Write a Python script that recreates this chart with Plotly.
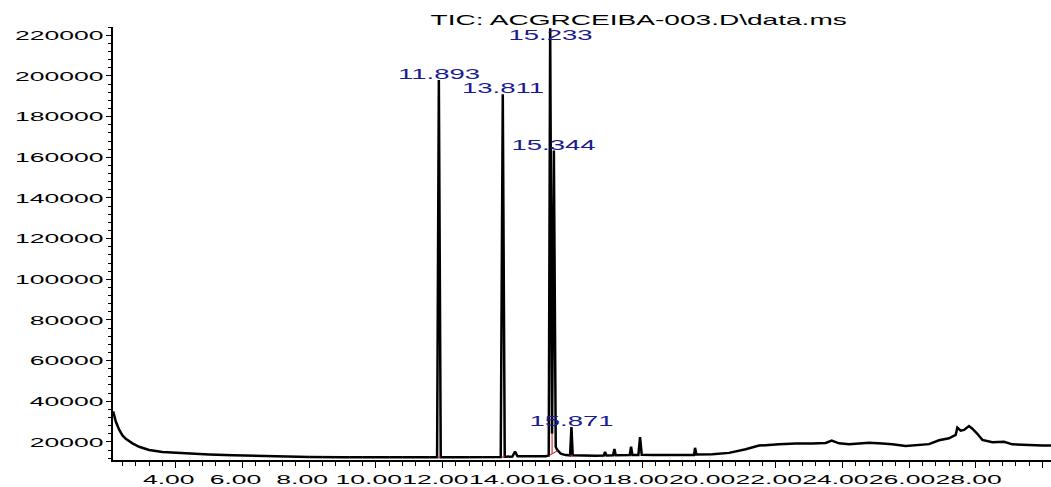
import plotly.graph_objects as go

# Total ion chromatogram: baseline and small features (retention time in min, abundance)
base_rt = [2.12, 2.2, 2.3, 2.4, 2.5, 2.7, 2.9, 3.2, 3.6, 4.0, 4.5, 5.0, 5.7, 6.5, 7.2, 8.0,
           9.0, 10.0, 11.0, 11.84, 11.95, 12.5, 13.2, 13.75, 13.87, 14.1, 14.18, 14.25,
           14.6, 15.1, 15.19, 15.29, 15.40, 15.45, 15.55, 15.7, 15.83, 15.91, 16.2, 16.6,
           16.84, 16.88, 16.92, 17.12, 17.16, 17.2, 17.62, 17.66, 17.70, 17.88, 17.93,
           17.98, 18.3, 18.8, 19.2, 19.55, 19.58, 19.62, 20.1, 20.6, 21.1, 21.5, 22.1,
           22.6, 23.1, 23.5, 23.68, 23.9, 24.2, 24.8, 25.2, 25.5, 25.9, 26.3, 26.6, 26.9,
           27.2, 27.4, 27.45, 27.55, 27.65, 27.8, 27.9, 28.05, 28.2, 28.5, 28.85, 29.1,
           29.5, 30.0, 30.3]
base_ab = [35000, 30000, 26000, 23200, 21500, 19300, 17600, 16000, 15000, 14600, 14100,
           13800, 13400, 13000, 12800, 12600, 12500, 12500, 12500, 12500, 12500, 12500,
           12600, 12600, 12700, 12800, 15300, 12900, 12900, 13000, 13300, 24000, 17500,
           16000, 14200, 13500, 13400, 13400, 13200, 13200, 13300, 15100, 13300, 13400,
           16450, 13400, 13500, 17600, 13600, 13600, 22400, 13700, 13500, 13400, 13400,
           13600, 17100, 13800, 13900, 14600, 16400, 18200, 18800, 19200, 19200, 19500,
           20600, 19300, 18900, 19600, 19200, 18900, 18000, 18400, 18900, 20800, 21800,
           23500, 27000, 25500, 25900, 27800, 26500, 24000, 21000, 19800, 20100, 18800,
           18500, 18200, 18300]

# Integrated peaks: apex retention time and apex abundance
peak_rt = [11.893, 13.811, 15.233, 15.344, 15.871]
peak_top = [198000, 191000, 223500, 163300, 27300]

# Integration baselines and drop line (red), segments separated by None
integ_rt = [11.84, 11.95, None, 13.76, 13.88, None, 15.19, 15.29, 15.45, None,
            15.29, 15.29, None, 15.83, 15.92]
integ_ab = [12400, 12500, None, 12500, 12700, None, 13200, 14100, 15600, None,
            14100, 24000, None, 13200, 13200]

# Axis ticks
x_tick_vals = [4, 6, 8, 10, 12, 14, 16, 18, 20, 22, 24, 26, 28, 30]
x_tick_text = ["4.00", "6.00", "8.00", "10.00", "12.00", "14.00", "16.00", "18.00",
               "20.00", "22.00", "24.00", "26.00", "28.00", ""]
y_tick_vals = [20000, 40000, 60000, 80000, 100000, 120000, 140000, 160000, 180000,
               200000, 220000]
y_tick_text = [str(v) for v in y_tick_vals]

X_RANGE = [2.116, 30.26]
Y_RANGE = [11100, 224100]

# Merge baseline and apex points into one ordered trace
points = sorted(list(zip(base_rt, base_ab)) + list(zip(peak_rt, peak_top)))
trace_rt = [p[0] for p in points]
trace_ab = [p[1] for p in points]

FONT = "Liberation Sans, Arial, sans-serif"
LABEL_BLUE = "#1b1b8f"

fig = go.Figure()
fig.add_trace(go.Scatter(x=trace_rt, y=trace_ab, mode="lines",
                         line=dict(color="black", width=2.5), hoverinfo="skip"))
fig.add_trace(go.Scatter(x=integ_rt, y=integ_ab, mode="lines",
                         line=dict(color="#d01010", width=1), hoverinfo="skip"))

for rt, top in zip(peak_rt, peak_top):
    near_top = top > 0.97 * Y_RANGE[1] - 0.03 * Y_RANGE[0]
    fig.add_annotation(x=rt, y=top, text=f"{rt:.3f}", showarrow=False,
                       xanchor="center", yanchor="top" if near_top else "bottom",
                       yshift=2 if near_top else -3, borderpad=0,
                       font=dict(family=FONT, size=14.1, color=LABEL_BLUE))

fig.update_layout(
    width=1051, height=487,
    margin=dict(l=113, r=0, t=27, b=23),
    paper_bgcolor="white", plot_bgcolor="white",
    showlegend=False,
    title=dict(text="TIC: ACGRCEIBA-003.D\\data.ms", x=589 / 1051, xanchor="center",
               xref="paper", y=1 - 20 / 487, yanchor="middle", yref="container",
               font=dict(family=FONT, size=14.4, color="black")),
)
fig.update_xaxes(range=X_RANGE, showgrid=False, zeroline=False,
                 showline=True, linecolor="black", linewidth=1.5,
                 tickmode="array", tickvals=x_tick_vals, ticktext=x_tick_text,
                 ticks="outside", ticklen=6, tickwidth=1, tickcolor="black",
                 tickangle=0, ticklabelshift=-7,
                 tickfont=dict(family=FONT, size=13.6, color="black"),
                 minor=dict(tickmode="linear", tick0=0, dtick=0.4, ticks="outside",
                            ticklen=4, tickwidth=1, tickcolor="black", showgrid=False))
fig.update_yaxes(range=Y_RANGE, showgrid=False, zeroline=False,
                 showline=True, linecolor="black", linewidth=1.5,
                 tickmode="array", tickvals=y_tick_vals, ticktext=y_tick_text,
                 ticks="outside", ticklen=5, tickwidth=1, tickcolor="black",
                 tickfont=dict(family=FONT, size=13.6, color="black"),
                 minor=dict(tickmode="linear", tick0=0, dtick=4000, ticks="outside",
                            ticklen=3, tickwidth=1, tickcolor="black", showgrid=False))

# Widen the Arial-style lettering horizontally, keeping each text's anchor fixed
STRETCH_JS = """
var gd = document.getElementById('{plot_id}');
var k = 1.95;
gd.querySelectorAll('.xtick text, .ytick text, .annotation-text, .gtitle').forEach(function (t) {
  var x = parseFloat(t.getAttribute('x')) || 0;
  var tr = t.getAttribute('transform') || '';
  t.setAttribute('transform', tr + ' translate(' + x + ',0) scale(' + k + ',1) translate(' + (-x) + ',0)');
});
"""

fig.write_html("out.html", post_script=STRETCH_JS)
